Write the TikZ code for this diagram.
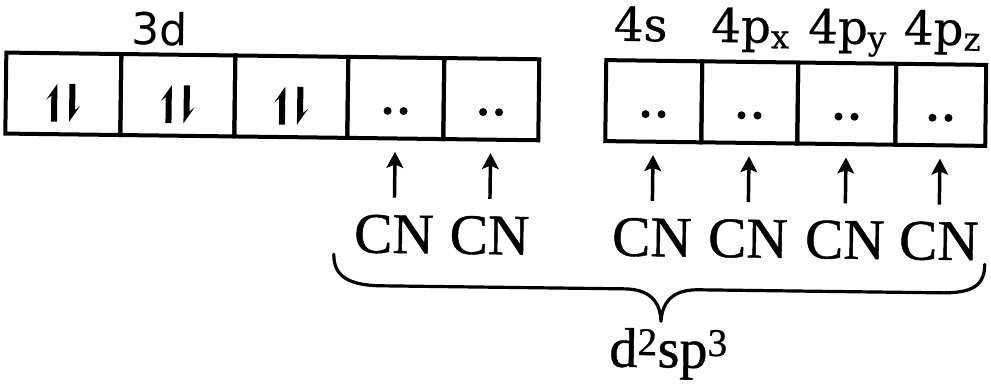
\documentclass[tikz,border=0pt]{standalone}
\usepackage{fontspec}
\setmainfont{Liberation Serif}
\newfontfamily\cnfont[FakeBold=0.8]{Liberation Serif}
\newfontfamily\lblfont[FakeBold=0.5]{DejaVu Serif}
\newfontfamily\shellfont{DejaVu Sans}
\usetikzlibrary{arrows.meta}

\begin{document}
\begin{tikzpicture}[x=0.75pt, y=-0.75pt,
  orb/.style={draw, line width=3pt, minimum height=60.75pt, inner sep=0pt, outer sep=0pt},
  cnlabel/.style={anchor=base, inner sep=0pt, font=\cnfont\fontsize{43}{46}\selectfont},
  sublabel/.style={anchor=base, inner sep=0pt, font=\lblfont\fontsize{35}{38}\selectfont},
  donor/.style={line width=2.6pt, -{Stealth[length=12pt, width=12.5pt, inset=2.5pt]},
                shorten <=12.75pt, shorten >=10pt},
  brace/.style={line width=2.4pt, line join=round, line cap=round},
  % paired electrons: up harpoon (barb left) and down harpoon (barb right)
  spinpair/.pic={
    \fill (-6,28) -- (-6,-10) -- (-17,6) -- (-12,2) -- (-12,28) -- cycle;
    \fill (6,-10) -- (6,28) -- (17,12) -- (12,16) -- (12,-10) -- cycle;
  },
  % lone pair donated by a ligand
  lonepair/.pic={
    \fill (-8,13) circle (4);
    \fill (8,13) circle (4);
  }]

\useasboundingbox (0,0) rectangle (991,390);

\begin{scope}[rotate=-0.72, transform shape]
  % 3d orbitals
  \node[orb, minimum width=86.25pt] (d1) at (64.5,93) {};
  \node[orb, minimum width=85.5pt]  (d2) at (179,93) {};
  \node[orb, minimum width=84.75pt] (d3) at (292.5,93) {};
  \node[orb, minimum width=72pt]    (d4) at (397,93) {};
  \node[orb, minimum width=71.25pt] (d5) at (492.5,93) {};

  % 4s and 4p orbitals
  \node[orb, minimum width=72pt]    (s1) at (655,93) {};
  \node[orb, minimum width=72pt]    (px) at (751,93) {};
  \node[orb, minimum width=73.5pt]  (py) at (848,93) {};
  \node[orb, minimum width=67.5pt]  (pz) at (942,93) {};

  % subshell labels
  \node[anchor=base, inner sep=0pt, font=\shellfont\fontsize{33}{36}\selectfont] (l3d) at (160,43) {3d};
  \node[sublabel] (l4s)  at (641,33) {4s};
  \node[sublabel] (l4px) at (751,33) {4p\textsubscript{x}};
  \node[sublabel] (l4py) at (848,33) {4p\textsubscript{y}};
  \node[sublabel] (l4pz) at (943,33) {4p\textsubscript{z}};

  % electrons
  \pic at (d1.center) {spinpair};
  \pic at (d2.center) {spinpair};
  \pic at (d3.center) {spinpair};
  \foreach \b in {d4,d5,s1,px,py,pz} {
    \pic at (\b.center) {lonepair};
  }

  % cyanide ligands donating into the empty orbitals
  \foreach \b/\c in {d4/c1, d5/c2, s1/c3, px/c4, py/c5, pz/c6} {
    \node[cnlabel] (\c) at (\b.south |- 0,248) {CN};
    \draw[donor] (\c.north) -- (\b.south);
  }

  % brace grouping the six hybrid orbitals
  \draw[brace] (337,250) .. controls (337,272) and (352,281) .. (385,281)
    -- (628,281) .. controls (652,281) and (664,292) .. (665,313)
    .. controls (666,292) and (678,281) .. (702,281)
    -- (945,281) .. controls (978,281) and (988,272) .. (988,252);

  \node[anchor=base, inner sep=0pt, font=\cnfont\fontsize{42}{45}\selectfont] (hyb) at (673,359)
    {d\textsuperscript{2}sp\textsuperscript{3}};
\end{scope}
\end{tikzpicture}
\end{document}
